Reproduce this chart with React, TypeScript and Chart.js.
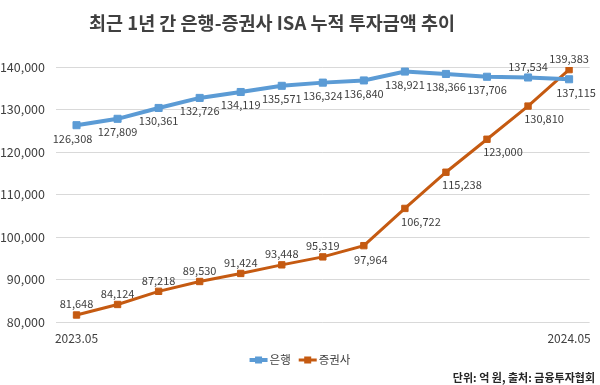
import React, { useEffect, useRef } from "react";
import { Chart, registerables } from "chart.js";

Chart.register(...registerables);

const months = [
  "2023.05", "2023.06", "2023.07", "2023.08", "2023.09", "2023.10", "2023.11",
  "2023.12", "2024.01", "2024.02", "2024.03", "2024.04", "2024.05",
];
const bankValues = [
  126308, 127809, 130361, 132726, 134119, 135571, 136324, 136840, 138921, 138366, 137706, 137534, 137115,
];
const brokerValues = [
  81648, 84124, 87218, 89530, 91424, 93448, 95319, 97964, 106722, 115238, 123000, 130810, 139383,
];
const yMin = 80000;
const yMax = 140000;
const yStep = 10000;

const seriesNames = ["은행", "증권사"];
const titleText = "최근 1년 간 은행-증권사 ISA 누적 투자금액 추이";
const sourceText = "단위: 억 원, 출처: 금융투자협회";

// label placement styles (not data)
const bankLabelPlace = ["bl", "b", "b", "b", "b", "b", "b", "b", "b", "b", "b", "a", "bs"];
const brokerLabelPlace = ["a", "a", "a", "a", "a", "a", "a", "bs", "br", "br", "br", "br", "a"];
const placeOffsets: Record<string, [number, number]> = {
  a: [0, -11],
  b: [0, 13],
  bl: [-4, 14],
  bs: [7, 14],
  br: [16, 13],
};

const BLUE = "#5B9BD5";
const ORANGE = "#C55A11";
const TEXT = "#404040";
const FONT = '"Noto Sans CJK KR", "Noto Sans", sans-serif';

const fmt = (v: number) => v.toLocaleString("en-US");

export default function App() {
  const ref = useRef<HTMLCanvasElement | null>(null);

  useEffect(() => {
    if (!ref.current) return;
    const places = [bankLabelPlace, brokerLabelPlace];

    const overlay = {
      id: "overlay",
      afterDatasetsDraw(chart: any) {
        const ctx = chart.ctx as CanvasRenderingContext2D;
        ctx.save();
        ctx.font = `11px ${FONT}`;
        ctx.fillStyle = TEXT;
        ctx.textAlign = "center";
        ctx.textBaseline = "middle";
        chart.data.datasets.forEach((ds: any, di: number) => {
          const meta = chart.getDatasetMeta(di);
          meta.data.forEach((pt: any, i: number) => {
            const off = placeOffsets[places[di][i]];
            ctx.fillText(fmt(ds.data[i]), pt.x + off[0], pt.y + off[1]);
          });
        });
        ctx.restore();
      },
      afterDraw(chart: any) {
        const ctx = chart.ctx as CanvasRenderingContext2D;
        const W = chart.width;
        ctx.save();
        // title
        ctx.font = `bold 18.5px ${FONT}`;
        ctx.fillStyle = TEXT;
        ctx.textAlign = "left";
        ctx.textBaseline = "middle";
        ctx.fillText(titleText, 89, 23);
        // legend
        ctx.font = `11.5px ${FONT}`;
        const colors = [BLUE, ORANGE];
        const lineW = 18;
        const gap = 2;
        const itemGap = 8;
        const widths = seriesNames.map((n) => ctx.measureText(n).width);
        const total = widths.reduce((s, w) => s + lineW + gap + w, 0) + itemGap * (seriesNames.length - 1);
        let x = W / 2 - total / 2;
        const ly = 360;
        seriesNames.forEach((n, i) => {
          ctx.strokeStyle = colors[i];
          ctx.lineWidth = i === 0 ? 4 : 3;
          ctx.beginPath();
          ctx.moveTo(x, ly);
          ctx.lineTo(x + lineW, ly);
          ctx.stroke();
          ctx.fillStyle = colors[i];
          ctx.fillRect(x + lineW / 2 - 3.5, ly - 3.5, 7, 7);
          ctx.fillStyle = TEXT;
          ctx.fillText(n, x + lineW + gap, ly);
          x += lineW + gap + widths[i] + itemGap;
        });
        // source
        ctx.font = `bold 11px ${FONT}`;
        ctx.fillStyle = "#262626";
        ctx.textAlign = "right";
        ctx.fillText(sourceText, 595, 378);
        ctx.restore();
      },
    };

    const chart = new Chart(ref.current, {
      type: "line",
      data: {
        labels: months,
        datasets: [
          {
            label: seriesNames[0],
            data: bankValues,
            borderColor: BLUE,
            backgroundColor: BLUE,
            borderWidth: 4,
            pointStyle: "rect",
            pointRadius: 5,
            pointBorderWidth: 1,
            pointBorderColor: BLUE,
            tension: 0,
          },
          {
            label: seriesNames[1],
            data: brokerValues,
            borderColor: ORANGE,
            backgroundColor: ORANGE,
            borderWidth: 3,
            pointStyle: "rect",
            pointRadius: 4.5,
            pointBorderWidth: 1,
            pointBorderColor: ORANGE,
            tension: 0,
          },
        ],
      },
      options: {
        animation: false,
        responsive: false,
        layout: { padding: { top: 67, right: 7, bottom: 33, left: 0 } },
        plugins: {
          legend: { display: false },
          title: { display: false },
          tooltip: { enabled: false },
        },
        scales: {
          x: {
            offset: true,
            grid: { display: false, drawTicks: false },
            border: { display: false },
            afterFit: (s: any) => {
              s.height = 30;
            },
            ticks: {
              autoSkip: false,
              maxRotation: 0,
              padding: 9,
              color: TEXT,
              font: { size: 12, family: FONT },
              callback: (_v: any, i: number) => (i === 0 || i === months.length - 1 ? months[i] : ""),
            },
          },
          y: {
            min: yMin,
            max: yMax,
            grid: { color: "#D9D9D9", lineWidth: 1, drawTicks: false },
            border: { display: false },
            afterFit: (s: any) => {
              s.width = 56;
            },
            ticks: {
              stepSize: yStep,
              padding: 11,
              color: TEXT,
              font: { size: 12.5, family: FONT },
              callback: (v: any) => fmt(Number(v)),
            },
          },
        },
      },
      plugins: [overlay],
    });
    return () => chart.destroy();
  }, []);

  return (
    <div style={{ position: "fixed", left: 0, top: 0, width: 600, height: 385, background: "#fff" }}>
      <canvas ref={ref} width={600} height={385} />
    </div>
  );
}
